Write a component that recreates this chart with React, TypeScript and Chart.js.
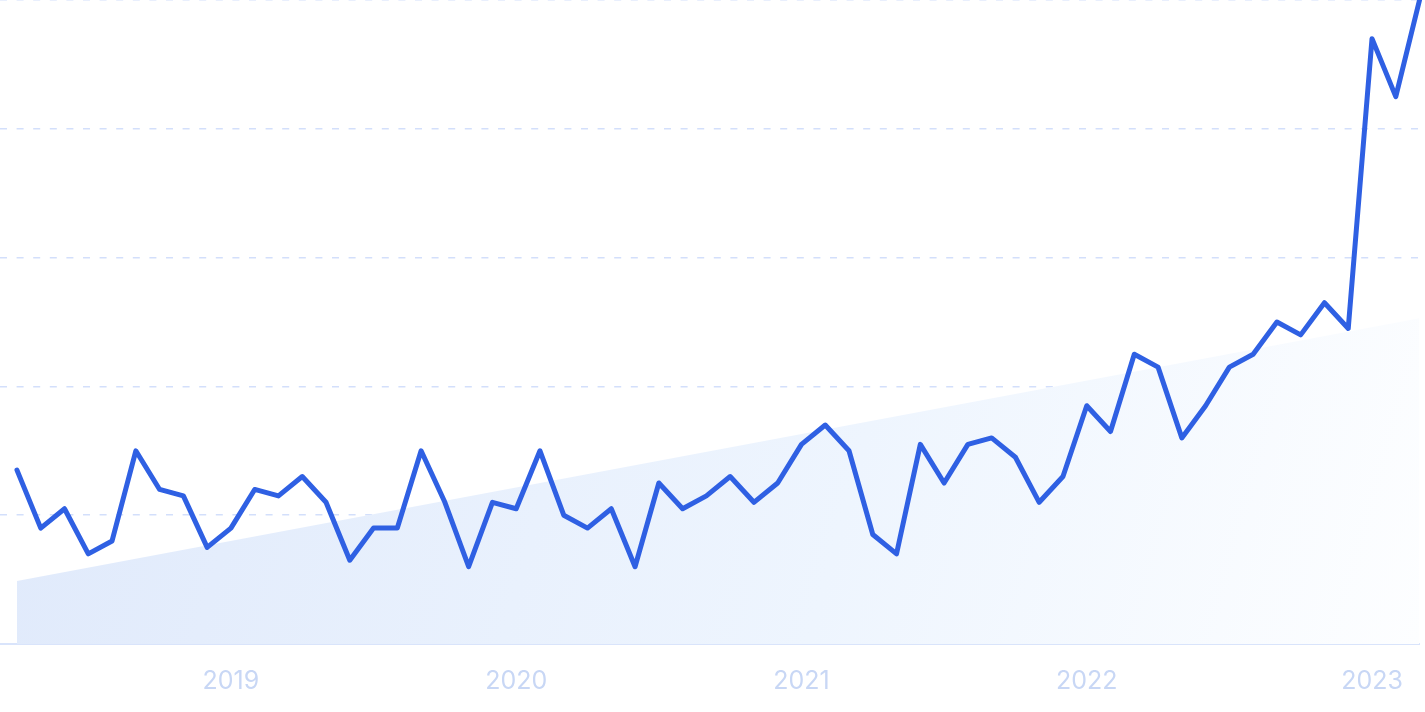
import React, { useEffect, useRef } from "react";
import { Chart, registerables } from "chart.js";

Chart.register(...registerables);

const monthLabels: string[] = [
  "2018-04", "2018-05", "2018-06", "2018-07", "2018-08", "2018-09", "2018-10", "2018-11", "2018-12",
  "2019-01", "2019-02", "2019-03", "2019-04", "2019-05", "2019-06", "2019-07", "2019-08", "2019-09", "2019-10", "2019-11", "2019-12",
  "2020-01", "2020-02", "2020-03", "2020-04", "2020-05", "2020-06", "2020-07", "2020-08", "2020-09", "2020-10", "2020-11", "2020-12",
  "2021-01", "2021-02", "2021-03", "2021-04", "2021-05", "2021-06", "2021-07", "2021-08", "2021-09", "2021-10", "2021-11", "2021-12",
  "2022-01", "2022-02", "2022-03", "2022-04", "2022-05", "2022-06", "2022-07", "2022-08", "2022-09", "2022-10", "2022-11", "2022-12",
  "2023-01", "2023-02", "2023-03",
];

const searchValues: number[] = [
  27, 18, 21, 14, 16, 30, 24, 23, 15,
  18, 24, 23, 26, 22, 13, 18, 18, 30, 22, 12, 22,
  21, 30, 20, 18, 21, 12, 25, 21, 23, 26, 22, 25,
  31, 34, 30, 17, 14, 31, 25, 31, 32, 29, 22, 26,
  37, 33, 45, 43, 32, 37, 43, 45, 50, 48, 53, 49,
  94, 85, 100,
];

// trend line endpoints (first and last month)
const trendStart = 9.8;
const trendEnd = 50.6;

const yearTickLabels: string[] = ["2019", "2020", "2021", "2022", "2023"];

export default function App() {
  const canvasRef = useRef<HTMLCanvasElement | null>(null);

  useEffect(() => {
    const canvas = canvasRef.current;
    if (!canvas) return;
    const lastIdx = searchValues.length - 1;
    const tickIndices = monthLabels
      .map((l, i) => (l.endsWith("-01") ? i : -1))
      .filter((i) => i >= 0);

    const chart = new Chart(canvas, {
      type: "line",
      data: {
        datasets: [
          {
            label: "Searches",
            data: searchValues.map((v, i) => ({ x: i, y: v })),
            borderColor: "#2f60e3",
            borderWidth: 5,
            borderJoinStyle: "round",
            borderCapStyle: "round",
            pointRadius: 0,
            tension: 0,
            fill: false,
            order: 1,
            clip: false as any,
          },
          {
            label: "Trend",
            data: [
              { x: 0, y: trendStart },
              { x: lastIdx, y: trendEnd },
            ],
            borderWidth: 0,
            borderColor: "rgba(0,0,0,0)",
            pointRadius: 0,
            fill: "origin",
            order: 2,
            backgroundColor: (ctx: any) => {
              const ca = ctx.chart.chartArea;
              if (!ca) return "#e6eefc";
              const g = ctx.chart.ctx.createLinearGradient(ca.left, ca.top + 250, ca.right, ca.bottom);
              g.addColorStop(0, "#dfe9fb");
              g.addColorStop(0.6, "#eef5fe");
              g.addColorStop(1, "#fdfeff");
              return g;
            },
          },
        ],
      },
      options: {
        animation: false,
        responsive: false,
        maintainAspectRatio: false,
        layout: { padding: { left: 0, right: 4, top: 0, bottom: 0 } },
        plugins: { legend: { display: false }, tooltip: { enabled: false } },
        scales: {
          x: {
            type: "linear",
            min: -0.714,
            max: lastIdx,
            grid: { display: false, drawTicks: false },
            border: { display: true, color: "#d9e4fb", width: 2 },
            afterBuildTicks: (scale: any) => {
              scale.ticks = tickIndices.map((v) => ({ value: v }));
            },
            afterFit: (scale: any) => {
              scale.height = 68;
            },
            ticks: {
              padding: 22,
              color: "#c8d7f5",
              font: { family: "Inter", size: 25 },
              maxRotation: 0,
              autoSkip: false,
              callback: (value: any) => {
                const k = tickIndices.indexOf(Number(value));
                return k >= 0 ? yearTickLabels[k] : "";
              },
            },
          },
          y: {
            min: 0,
            max: 100,
            ticks: { display: false, stepSize: 20 },
            grid: { color: "#d3dffb", lineWidth: 1.5, drawTicks: false },
            border: { display: false, dash: [7, 9.6] },
            afterFit: (scale: any) => {
              scale.width = 0;
            },
          },
        },
      },
    });
    return () => chart.destroy();
  }, []);

  return (
    <div style={{ position: "fixed", left: 0, top: 0, width: 1425, height: 712, background: "#fff" }}>
      <canvas ref={canvasRef} width={1425} height={712} style={{ display: "block", width: 1425, height: 712 }} />
    </div>
  );
}
